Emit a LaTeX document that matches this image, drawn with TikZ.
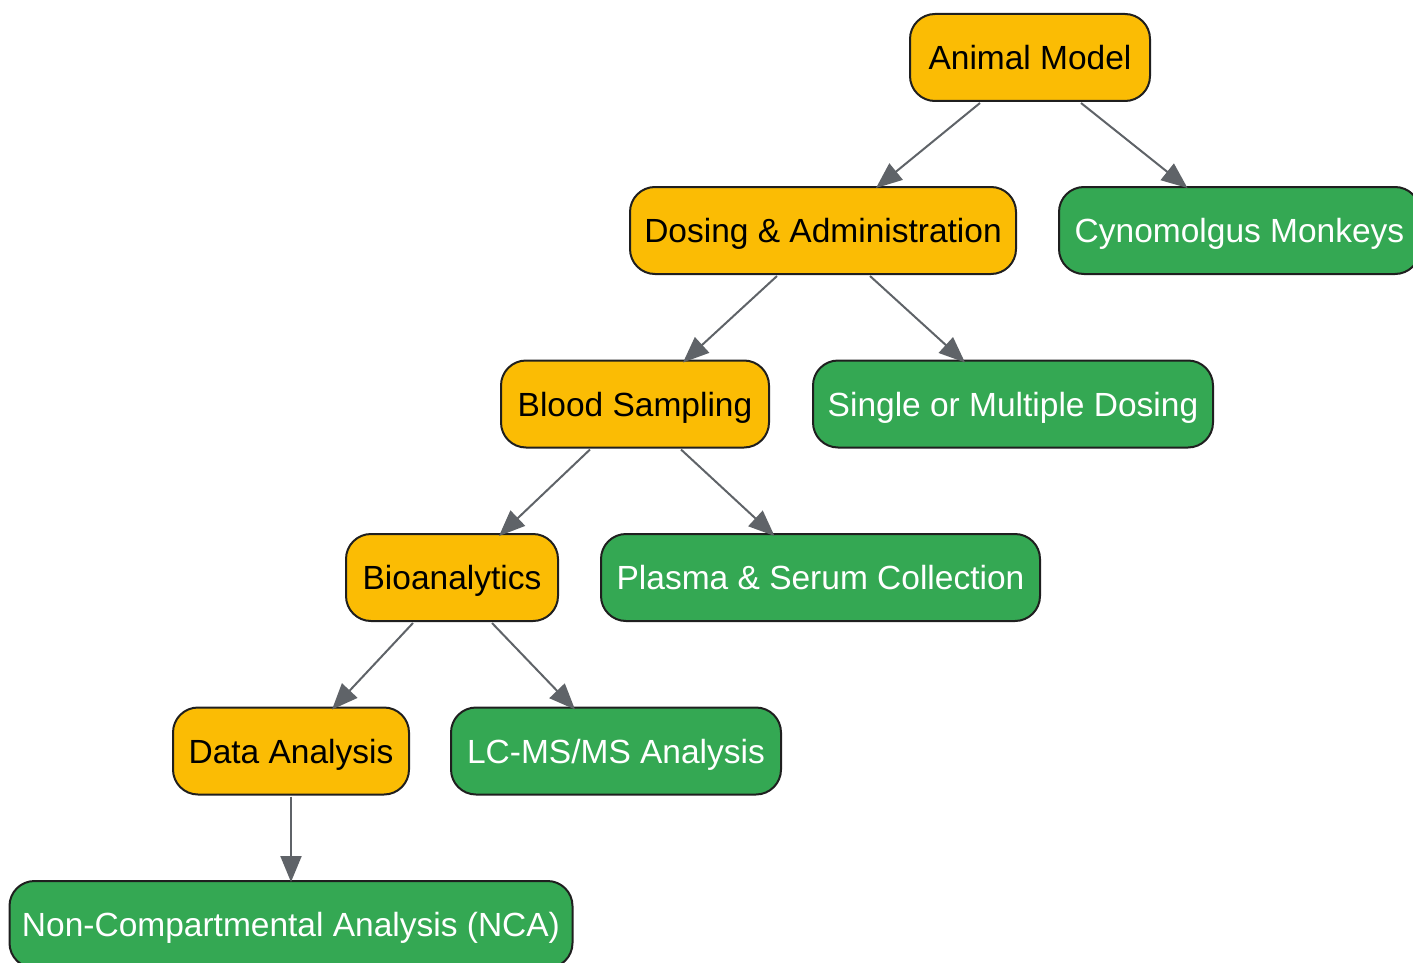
\documentclass[tikz,border=0pt]{standalone}
\usepackage{fontspec}
\setmainfont{Liberation Sans}
\usetikzlibrary{arrows.meta,calc}
\definecolor{stepor}{HTML}{FBBC04}
\definecolor{stepgr}{HTML}{34A853}
\definecolor{edgegray}{HTML}{5F6368}
\definecolor{border}{HTML}{1F1F1F}
\begin{document}
\begin{tikzpicture}[x=1pt,y=-1pt,
  box/.style={draw=border,line width=2pt,rounded corners=25pt,minimum height=87pt,inner sep=0pt,
    text height=24.5pt,text depth=0pt,
    font=\fontsize{33.5}{40}\selectfont},
  orbox/.style={box,fill=stepor,text=black},
  grbox/.style={box,fill=stepgr,text=white},
  conn/.style={draw=edgegray,line width=2pt,-{Triangle[length=26pt,width=21pt]}}]
\useasboundingbox (0,0) rectangle (1413,963);
\node[orbox,minimum width=240pt] (am) at (1030,57.5) {Animal Model};
\node[orbox,minimum width=386pt] (dose) at (823,230.5) {Dosing \& Administration};
\node[grbox,minimum width=361pt] (cyno) at (1239.5,230.5) {Cynomolgus Monkeys};
\node[orbox,minimum width=268pt] (blood) at (635,404) {Blood Sampling};
\node[grbox,minimum width=400pt] (single) at (1013,404) {Single or Multiple Dosing};
\node[orbox,minimum width=212pt] (bio) at (452,577.5) {Bioanalytics};
\node[grbox,minimum width=439pt] (plasma) at (820.5,577.5) {Plasma \& Serum Collection};
\node[orbox,minimum width=236pt] (data) at (291,751) {Data Analysis};
\node[grbox,minimum width=330pt] (lcms) at (616,751) {LC-MS/MS Analysis};
\node[grbox,minimum width=563pt] (nca) at (291,924.5) {Non-Compartmental Analysis (NCA)};
\draw[conn] ([xshift=-50pt,yshift=-1pt]am.south) -- ([xshift=53pt,yshift=-2pt]dose.north);
\draw[conn] ([xshift=51pt,yshift=-1pt]am.south) -- ([xshift=-52pt,yshift=-2pt]cyno.north);
\draw[conn] ([xshift=-46pt,yshift=-1pt]dose.south) -- ([xshift=48pt,yshift=-3pt]blood.north);
\draw[conn] ([xshift=47pt,yshift=-1pt]dose.south) -- ([xshift=-48pt,yshift=-3pt]single.north);
\draw[conn] ([xshift=-45pt,yshift=-1pt]blood.south) -- ([xshift=47pt,yshift=-3pt]bio.north);
\draw[conn] ([xshift=46pt,yshift=-1pt]blood.south) -- ([xshift=-46pt,yshift=-3pt]plasma.north);
\draw[conn] ([xshift=-39pt,yshift=-1pt]bio.south) -- ([xshift=41pt,yshift=-3pt]data.north);
\draw[conn] ([xshift=40pt,yshift=-1pt]bio.south) -- ([xshift=-41pt,yshift=-3pt]lcms.north);
\draw[conn] ([yshift=-1pt]data.south) -- ([yshift=-2pt]nca.north);
\end{tikzpicture}
\end{document}
